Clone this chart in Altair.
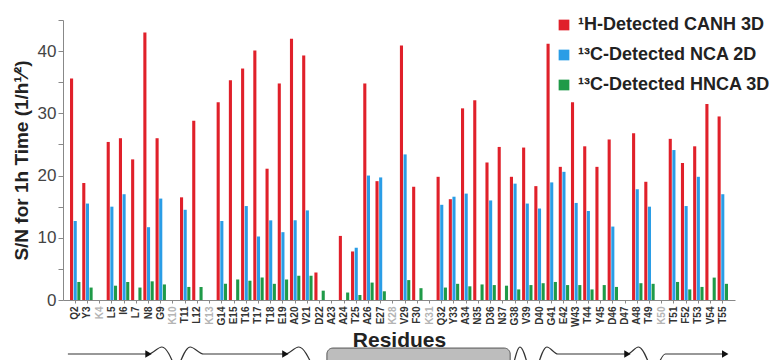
import json
import altair as alt
import pandas as pd

residues = ["Q2","Y3","K4","L5","I6","L7","N8","G9","K10","T11","L12","K13","G14","E15",
            "T16","T17","T18","E19","A20","V21","D22","A23","A24","T25","A26","E27","K28",
            "V29","F30","K31","Q32","Y33","A34","N35","D36","N37","G38","V39","D40","G41",
            "E42","W43","T44","Y45","D46","D47","A48","T49","K50","T51","F52","T53","V54","T55"]

canh = [35.6, 18.8, None, 25.4, 26.0, 22.6, 43.0, 26.0, None, 16.5, 28.8, None, 31.8, 35.3,
        37.2, 40.1, 21.1, 34.8, 42.0, 39.3, 4.4, None, 10.3, 7.8, 34.8, 19.1, None,
        40.9, 18.2, None, 19.8, 16.2, 30.8, 32.1, 22.1, 24.6, 19.8, 24.5, 18.3, 41.2,
        21.4, 31.8, 24.7, 21.4, 25.8, None, 26.8, 19.0, None, 25.9, 22.0, 24.7, 31.5, 29.5]

nca = [12.7, 15.5, None, 15.0, 17.0, None, 11.7, 16.3, None, 14.5, None, None, 12.7, None,
       15.1, 10.2, 12.8, 10.9, 12.8, 14.4, None, None, None, 8.4, 20.0, 19.7, None,
       23.4, None, None, 15.3, 16.6, 17.1, None, 16.0, None, 18.7, 15.5, 14.7, 18.9,
       20.6, 15.6, 14.3, None, 11.8, None, 17.8, 15.0, None, 24.1, 15.1, 19.8, None, 17.0]

hnca = [2.9, 2.0, None, 2.3, 2.9, 2.0, 3.0, 2.5, None, 2.1, 2.1, None, 2.6, 3.3,
        3.1, 3.6, 2.6, 3.3, 3.9, 3.9, 1.5, None, 1.2, 0.8, 2.8, 1.4, None,
        3.2, 1.9, None, 2.0, 2.6, 2.2, 2.5, 2.4, 2.3, 1.7, 2.4, 2.7, 2.9,
        2.4, 2.4, 1.7, 2.4, 2.1, None, 2.7, 2.6, None, 2.9, 1.7, 2.1, 3.6, 2.6]

gray_residues = ["K4", "K10", "K13", "K28", "K31", "K50"]

series_names = ["\u00b9H-Detected CANH 3D", "\u00b9\u00b3C-Detected NCA 2D", "\u00b9\u00b3C-Detected HNCA 3D"]
series_colors = ["#e0202a", "#2a9de6", "#1f9a48"]

# secondary structure sketch (residue number along the sequence, level: 0 baseline, 1 crest, -2 trough)
ss_path = [0, 0, 0, 0,
           1, 1, 1, 1, 1, 1,
           2, 2, 2,
           3, 3, 3, 3, 3, 3,
           4, 4, 4]
ss_res = [1.4, 8.0, 9.1, 10.2,
          10.4, 11.4, 12.5, 19.2, 20.3, 21.5,
          37.8, 38.4, 39.1,
          39.8, 40.6, 41.5, 47.2, 48.1, 49.1,
          49.6, 50.3, 55.2]
ss_level = [0, 0, 1, -2,
            -2, 1, 0, 0, 1, -2,
            -2, 1, -2,
            -2, 1, 0, 0, 1, -2,
            -2, 0, 0]
arrow_res = [8.0, 19.2, 47.2, 55.2]
helix_start = [22.6]
helix_end = [37.6]

rows = []
for res, a, b, c in zip(residues, canh, nca, hnca):
    for name, v in zip(series_names, (a, b, c)):
        if v is not None:
            rows.append({"Residue": res, "Series": name, "SN": v})
df = pd.DataFrame(rows)

ss_df = pd.DataFrame({"path": ss_path, "res": ss_res, "lvl": ss_level})
arrow_df = pd.DataFrame({"res": arrow_res, "lvl": [0] * len(arrow_res)})
helix_df = pd.DataFrame({"res": helix_start, "res2": helix_end, "top": [0.85], "bot": [-4.0]})

FONT = "Liberation Sans"
W, H = 672, 280

gray_expr = ("indexof(" + json.dumps(gray_residues) +
             ", datum.value) >= 0 ? '#b4b4b4' : '#333333'")

bars = alt.Chart(df).mark_bar().encode(
    x=alt.X("Residue:N", sort=residues,
            scale=alt.Scale(domain=residues, paddingInner=0, paddingOuter=0.5),
            axis=alt.Axis(title="Residues", labelAngle=-90, labelFontSize=10,
                          labelFontWeight="bold", labelFont=FONT,
                          labelColor=alt.expr(gray_expr), labelPadding=3,
                          tickSize=3, tickColor="#888", domainColor="#888",
                          titleFont=FONT, titleFontSize=21, titleFontWeight="bold",
                          titleColor="#222", titlePadding=3)),
    xOffset=alt.XOffset("Series:N", sort=series_names,
                        scale=alt.Scale(domain=series_names, paddingInner=0.15, paddingOuter=0.25)),
    y=alt.Y("SN:Q",
            scale=alt.Scale(domain=[0, 45], nice=False),
            axis=alt.Axis(title="S/N for 1h Time (1/h\u00b9\u2044\u00b2)",
                          values=list(range(0, 50, 5)),
                          labelExpr="datum.value % 10 == 0 ? datum.label : ''",
                          labelFontSize=17, labelFont=FONT, labelColor="#444",
                          tickSize=5, tickColor="#888", domainColor="#888", grid=False,
                          labelPadding=2, titleFont=FONT, titleFontSize=19,
                          titleFontWeight="bold", titleColor="#222", titlePadding=6)),
    color=alt.Color("Series:N", sort=series_names,
                    scale=alt.Scale(domain=series_names, range=series_colors),
                    legend=alt.Legend(title=None, orient="none", legendX=492, legendY=-4,
                                      symbolType="square", symbolSize=115,
                                      symbolStrokeWidth=0, labelFont=FONT,
                                      labelFontSize=18, labelFontWeight="bold",
                                      labelColor="#222", rowPadding=12, labelOffset=5,
                                      labelLimit=400)),
)

xq = alt.X("res:Q", scale=alt.Scale(domain=[1, 56], nice=False, zero=False), axis=None)
yscale = alt.Scale(domain=[-2, 1], range=[348, 327], nice=False, zero=False)

loops = alt.Chart(ss_df).mark_line(color="#333", strokeWidth=1.2, interpolate="monotone").encode(
    x=xq,
    y=alt.Y("lvl:Q", scale=yscale, axis=None),
    detail="path:N",
    order="res:Q",
)

arrows = alt.Chart(arrow_df).mark_point(shape="triangle-right", filled=True, color="#111",
                                        size=55, opacity=1).encode(
    x=xq,
    y=alt.Y("lvl:Q", scale=yscale, axis=None),
)

helix = alt.Chart(helix_df).mark_rect(fill="#bdbdbd", stroke="#555", strokeWidth=1,
                                      cornerRadius=6).encode(
    x=xq,
    x2="res2:Q",
    y=alt.Y("top:Q", scale=yscale, axis=None),
    y2="bot:Q",
)

chart = alt.layer(bars, loops, arrows, helix).resolve_scale(
    x="independent", y="independent"
).properties(
    width=W, height=H,
    autosize=alt.AutoSizeParams(type="none"),
    padding={"left": 55, "top": 12, "right": 36, "bottom": 60},
    background="white",
).configure_view(stroke=None)

chart.save("out.html", embed_options={"renderer": "svg", "actions": False})
